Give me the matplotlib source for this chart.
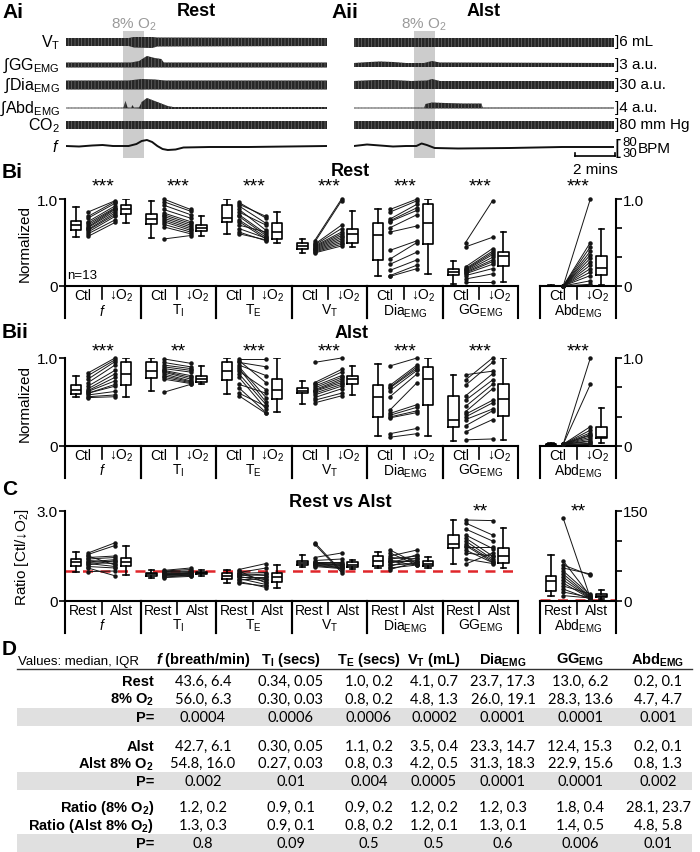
import matplotlib
matplotlib.use("Agg")
import matplotlib.pyplot as plt
import matplotlib.transforms as mtransforms

W, H = 700, 853

plt.rcParams['font.family'] = ['Liberation Sans', 'DejaVu Sans']
plt.rcParams['mathtext.fontset'] = 'custom'
plt.rcParams['mathtext.rm'] = 'Liberation Sans'
plt.rcParams['mathtext.it'] = 'Liberation Sans:italic'
plt.rcParams['mathtext.bf'] = 'Liberation Sans:bold'
try:
    plt.rcParams['mathtext.bfit'] = 'Liberation Sans:italic:bold'
except KeyError:
    pass
plt.rcParams['hatch.linewidth'] = 0.5

# ---------------- A: raw traces, keypoints (time %, top, bottom) ----------------
VT_REST = [(0, 4, -4), (24, 4, -4), (26, 5, -5.5), (33, 5, -6), (35, 4.5, -4.5), (100, 4, -4)]
GG_REST = [(0, 2.5, -2.5), (25, 2.5, -2.5), (28, 4, -2.5), (31, 9, -2.5), (34, 7, -2.5),
           (36.5, 6, -2.5), (37.5, 2.5, -2.5), (100, 2.5, -2.5)]
DIA_REST = [(0, 4.5, -4.5), (24, 4.5, -4.5), (29, 6, -4.5), (34, 5.5, -4.5), (38, 4.5, -4.5), (100, 4.5, -4.5)]
ABD_REST = [(0, 0.4, -0.4), (22, 0.4, -0.4), (22.8, 7, -0.4), (23.6, 0.4, -0.4), (25, 0.4, -0.4),
            (25.5, 3, -0.4), (26, 0.4, -0.4), (28, 0.6, -0.6), (29, 6, -1), (31, 10, -1), (33, 8, -1),
            (35, 6, -1), (37, 4, -1), (39, 2, -1), (41, 1, -1), (100, 1, -1)]
CO2_REST = [(0, 4, -4), (100, 4, -4)]
F_REST = [(0, 0), (5, -0.5), (10, 0.5), (14, 1), (18, 0), (24, 0), (27, 2), (29, 5), (31, 6), (33, 4),
          (35, 0), (37, -3), (39, -4), (42, -3.5), (45, -1.5), (55, -1), (70, -1), (85, -0.5), (100, 0)]

VT_ALST = [(0, 4.5, -4.5), (100, 4.5, -4.5)]
GG_ALST = [(0, 2, -2), (6, 3, -2), (10, 3.5, -2), (15, 3, -2), (20, 2, -2), (27, 2, -2), (30, 4, -2),
           (33, 2.5, -2), (100, 2, -2)]
DIA_ALST = [(0, 4, -4), (8, 5, -4), (15, 5, -4), (22, 4, -4), (28, 4.5, -4), (30, 6, -4), (33, 4, -4), (100, 4, -4)]
ABD_ALST = [(0, 0.4, -0.4), (27, 0.4, -0.4), (27.5, 4, -0.5), (30, 5.5, -0.5), (35, 5, -0.5),
            (42, 4.5, -0.5), (49, 4.5, -0.5), (49.5, 0.5, -0.5), (100, 0.5, -0.5)]
CO2_ALST = [(0, 4, -4), (100, 4, -4)]
F_ALST = [(0, 0), (5, 1.5), (10, 0.5), (15, -0.5), (20, 0), (24, 0), (26, 2.5), (28, 1), (31, -2),
          (40, -2.5), (60, -2), (80, -1), (100, -1)]

HYPOXIA_REST = (22, 30)
HYPOXIA_ALST = (23, 31)

TRACE_LABELS = ['V$_\\mathrm{T}$', '\u222bGG$_\\mathrm{EMG}$', '\u222bDia$_\\mathrm{EMG}$',
                '\u222bAbd$_\\mathrm{EMG}$', 'CO$_2$', '$f$']
SCALE_LABELS = [']6 mL', ']3 a.u.', ']30 a.u.', ']4 a.u.', ']80 mm Hg']

# ---------------- B / C: group data ----------------
GROUP_NAMES = ['$f$', 'T$_\\mathrm{I}$', 'T$_\\mathrm{E}$', 'V$_\\mathrm{T}$',
               'Dia$_\\mathrm{EMG}$', 'GG$_\\mathrm{EMG}$', 'Abd$_\\mathrm{EMG}$']

# box stats: whisker low, q1, median, q3, whisker high
BI_CTL_BOX = [[0.56, 0.64, 0.70, 0.75, 0.91], [0.55, 0.71, 0.77, 0.83, 0.98], [0.60, 0.73, 0.78, 0.93, 1.0],
              [0.38, 0.42, 0.46, 0.50, 0.54], [0.11, 0.30, 0.59, 0.72, 0.88], [0.02, 0.13, 0.16, 0.19, 0.29],
              [0.0, 0.0, 0.0, 0.005, 0.01]]
BI_O2_BOX = [[0.72, 0.83, 0.88, 0.93, 1.0], [0.58, 0.63, 0.67, 0.70, 0.80], [0.50, 0.54, 0.62, 0.72, 0.85],
             [0.45, 0.50, 0.60, 0.65, 0.86], [0.14, 0.48, 0.72, 0.94, 1.0], [0.05, 0.23, 0.35, 0.39, 0.62],
             [0.01, 0.13, 0.21, 0.34, 0.65]]
BI_CTL = [[0.85, 0.80, 0.78, 0.74, 0.72, 0.70, 0.68, 0.67, 0.65, 0.64, 0.62, 0.60, 0.57],
          [1.0, 0.97, 0.93, 0.88, 0.84, 0.82, 0.80, 0.78, 0.76, 0.74, 0.71, 0.68, 0.54],
          [0.96, 0.94, 0.92, 0.88, 0.85, 0.82, 0.80, 0.76, 0.74, 0.70, 0.66, 0.62, 0.60],
          [0.52, 0.50, 0.48, 0.47, 0.46, 0.45, 0.44, 0.43, 0.42, 0.41, 0.40, 0.39, 0.38],
          [0.88, 0.85, 0.77, 0.75, 0.74, 0.67, 0.62, 0.41, 0.31, 0.25, 0.18, 0.12, 0.11],
          [0.50, 0.45, 0.22, 0.20, 0.19, 0.18, 0.17, 0.16, 0.15, 0.14, 0.12, 0.08, 0.05],
          [0.0, 0.0, 0.0, 0.0, 0.0, 0.0, 0.0, 0.0, 0.0, 0.0, 0.0, 0.0, 0.0]]
BI_O2 = [[0.98, 0.97, 0.95, 0.92, 0.90, 0.89, 0.88, 0.86, 0.84, 0.82, 0.80, 0.76, 0.73],
         [0.88, 0.86, 0.82, 0.78, 0.74, 0.72, 0.70, 0.68, 0.66, 0.64, 0.62, 0.60, 0.58],
         [0.78, 0.80, 0.72, 0.64, 0.70, 0.60, 0.58, 0.56, 0.54, 0.62, 0.55, 0.52, 0.53],
         [1.0, 0.98, 0.70, 0.66, 0.62, 0.60, 0.58, 0.56, 0.54, 0.52, 0.50, 0.48, 0.46],
         [1.0, 0.98, 0.94, 0.90, 0.87, 0.82, 0.69, 0.52, 0.50, 0.39, 0.30, 0.24, 0.20],
         [0.98, 0.56, 0.43, 0.40, 0.38, 0.36, 0.33, 0.30, 0.28, 0.25, 0.20, 0.14, 0.05],
         [1.0, 0.50, 0.45, 0.40, 0.36, 0.32, 0.28, 0.24, 0.20, 0.16, 0.12, 0.06, 0.02]]
BI_STARS = ['***', '***', '***', '***', '***', '***', '***']

BII_CTL_BOX = [[0.56, 0.59, 0.64, 0.69, 0.80], [0.63, 0.77, 0.85, 0.96, 1.0], [0.59, 0.75, 0.85, 0.95, 1.0],
               [0.48, 0.60, 0.63, 0.66, 0.74], [0.11, 0.33, 0.56, 0.69, 0.93], [0.06, 0.22, 0.30, 0.57, 0.81],
               [0.01, 0.015, 0.02, 0.025, 0.03]]
BII_O2_BOX = [[0.56, 0.69, 0.82, 0.95, 1.0], [0.70, 0.73, 0.76, 0.80, 0.91], [0.39, 0.53, 0.64, 0.76, 1.0],
              [0.58, 0.71, 0.76, 0.80, 0.91], [0.11, 0.47, 0.76, 0.90, 1.0], [0.07, 0.34, 0.53, 0.71, 1.0],
              [0.03, 0.09, 0.10, 0.22, 0.43]]
BII_CTL = [[0.83, 0.80, 0.76, 0.72, 0.68, 0.65, 0.63, 0.62, 0.60, 0.60, 0.58, 0.56, 0.55],
           [0.99, 0.95, 0.92, 0.90, 0.88, 0.86, 0.85, 0.84, 0.82, 0.80, 0.78, 0.76, 0.61],
           [0.99, 0.97, 0.95, 0.92, 0.90, 0.88, 0.85, 0.82, 0.78, 0.70, 0.66, 0.60, 0.57],
           [0.95, 0.72, 0.70, 0.68, 0.66, 0.64, 0.63, 0.62, 0.60, 0.58, 0.55, 0.52, 0.49],
           [0.91, 0.69, 0.67, 0.66, 0.63, 0.56, 0.41, 0.37, 0.35, 0.33, 0.32, 0.14, 0.10],
           [0.81, 0.75, 0.69, 0.57, 0.52, 0.45, 0.39, 0.36, 0.33, 0.30, 0.23, 0.16, 0.07],
           [0.02, 0.02, 0.02, 0.02, 0.02, 0.02, 0.02, 0.02, 0.02, 0.02, 0.02, 0.02, 0.02]]
BII_O2 = [[1.0, 0.98, 0.96, 0.92, 0.86, 0.82, 0.78, 0.74, 0.70, 0.68, 0.62, 0.58, 0.56],
          [0.94, 0.90, 0.88, 0.86, 0.84, 0.80, 0.78, 0.76, 0.74, 0.73, 0.72, 0.71, 0.70],
          [0.99, 0.72, 0.90, 0.80, 0.55, 0.50, 0.64, 0.47, 0.42, 0.60, 0.38, 0.45, 0.37],
          [1.0, 0.87, 0.84, 0.80, 0.78, 0.76, 0.74, 0.72, 0.70, 0.68, 0.65, 0.60, 0.57],
          [1.0, 0.92, 0.90, 0.88, 0.86, 0.82, 0.72, 0.47, 0.44, 0.40, 0.38, 0.20, 0.14],
          [0.85, 1.0, 0.95, 0.82, 0.75, 0.70, 0.65, 0.52, 0.49, 0.42, 0.40, 0.30, 0.08],
          [1.0, 0.70, 0.22, 0.18, 0.15, 0.13, 0.12, 0.10, 0.08, 0.06, 0.05, 0.03, 0.02]]
BII_STARS = ['***', '**', '***', '***', '***', '***', '***']

C_REST_BOX = [[0.98, 1.16, 1.29, 1.40, 1.64], [0.78, 0.85, 0.90, 0.95, 1.02], [0.60, 0.75, 0.85, 0.95, 1.05],
              [1.15, 1.20, 1.27, 1.35, 1.55], [1.10, 1.18, 1.35, 1.49, 1.64], [1.23, 1.76, 1.90, 2.20, 2.71],
              [9, 17, 34, 41, 77]]
C_ALST_BOX = [[0.87, 1.16, 1.31, 1.42, 1.83], [0.85, 0.90, 0.93, 0.97, 1.05], [0.45, 0.65, 0.80, 0.95, 1.20],
              [1.08, 1.12, 1.20, 1.30, 1.38], [1.09, 1.17, 1.25, 1.33, 1.47], [1.10, 1.27, 1.50, 1.76, 2.44],
              [4, 6, 8, 11, 19]]
C_REST = [[1.60, 1.55, 1.50, 1.45, 1.40, 1.35, 1.30, 1.28, 1.25, 1.20, 1.15, 1.10, 0.98],
          [1.02, 1.00, 0.98, 0.95, 0.92, 0.90, 0.90, 0.88, 0.87, 0.85, 0.83, 0.80, 0.78],
          [1.05, 1.00, 0.95, 0.92, 0.90, 0.88, 0.85, 0.82, 0.80, 0.75, 0.70, 0.65, 0.60],
          [1.95, 1.90, 1.45, 1.35, 1.30, 1.28, 1.26, 1.25, 1.24, 1.22, 1.20, 1.18, 1.15],
          [1.70, 1.60, 1.50, 1.45, 1.40, 1.35, 1.32, 1.30, 1.25, 1.20, 1.15, 1.10, 1.05],
          [2.70, 2.60, 2.40, 2.20, 2.10, 2.00, 1.90, 1.85, 1.80, 1.70, 1.60, 1.40, 1.23],
          [138, 67, 60, 55, 50, 45, 40, 35, 30, 25, 20, 15, 9]]
C_ALST = [[1.94, 1.85, 1.20, 1.50, 1.45, 1.30, 1.38, 1.25, 1.15, 1.35, 1.10, 0.84, 1.00],
          [1.10, 1.05, 1.00, 0.98, 0.95, 0.93, 0.92, 0.90, 0.90, 0.88, 0.86, 0.85, 0.82],
          [1.25, 0.60, 1.10, 0.95, 0.70, 0.85, 0.90, 0.65, 0.80, 0.55, 0.75, 0.45, 0.50],
          [1.00, 0.95, 1.60, 1.40, 1.30, 1.25, 1.22, 1.20, 1.18, 1.15, 1.12, 1.10, 1.08],
          [1.25, 1.20, 1.70, 1.40, 1.50, 1.30, 1.20, 1.35, 1.55, 1.25, 1.45, 1.20, 1.30],
          [2.68, 2.20, 2.00, 1.75, 1.50, 1.40, 1.35, 1.30, 1.80, 1.28, 1.50, 1.25, 1.60],
          [5, 8, 43, 45, 10, 7, 6, 5, 4, 12, 3, 6, 5]]
C_STARS = ['', '', '', '', '', '**', '**']

# ---------------- D: table ----------------
TABLE_HEADERS = ['$\\mathbfit{f}$ (breath/min)', 'T$_\\mathbf{I}$ (secs)', 'T$_\\mathbf{E}$ (secs)',
                 'V$_\\mathbf{T}$ (mL)', 'Dia$_\\mathbf{EMG}$', 'GG$_\\mathbf{EMG}$', 'Abd$_\\mathbf{EMG}$']
TABLE_ROWS = ['Rest', '8% O$_\\mathbf{2}$', 'P=', 'Alst', 'Alst 8% O$_\\mathbf{2}$', 'P=',
              'Ratio (8% O$_\\mathbf{2}$)', 'Ratio (Alst 8% O$_\\mathbf{2}$)', 'P=']
TABLE_VALUES = [
    ['43.6, 6.4', '0.34, 0.05', '1.0, 0.2', '4.1, 0.7', '23.7, 17.3', '13.0, 6.2', '0.2, 0.1'],
    ['56.0, 6.3', '0.30, 0.03', '0.8, 0.2', '4.8, 1.3', '26.0, 19.1', '28.3, 13.6', '4.7, 4.7'],
    ['0.0004', '0.0006', '0.0006', '0.0002', '0.0001', '0.0001', '0.001'],
    ['42.7, 6.1', '0.30, 0.05', '1.1, 0.2', '3.5, 0.4', '23.3, 14.7', '12.4, 15.3', '0.2, 0.1'],
    ['54.8, 16.0', '0.27, 0.03', '0.8, 0.3', '4.2, 0.5', '31.3, 18.3', '22.9, 15.6', '0.8, 1.3'],
    ['0.002', '0.01', '0.004', '0.0005', '0.0001', '0.0001', '0.002'],
    ['1.2, 0.2', '0.9, 0.1', '0.9, 0.2', '1.2, 0.2', '1.2, 0.3', '1.8, 0.4', '28.1, 23.7'],
    ['1.3, 0.3', '0.9, 0.1', '0.8, 0.2', '1.2, 0.1', '1.3, 0.1', '1.4, 0.5', '4.8, 5.8'],
    ['0.8', '0.09', '0.5', '0.5', '0.6', '0.006', '0.01'],
]

fig = plt.figure(figsize=(W / 100, H / 100), dpi=100)


def fy(y):
    return 1 - y / H


def px_axes(x0, y0, x1, y1):
    return fig.add_axes([x0 / W, 1 - y1 / H, (x1 - x0) / W, (y1 - y0) / H])


def ftext(x, y, s, **kw):
    kw.setdefault('va', 'center')
    fig.text(x / W, fy(y), s, **kw)


# ---------------- panel A ----------------
ROW_Y = [43, 66, 86, 109, 126, 147]


def draw_traces(x0, x1, fills, freq, band):
    ax = px_axes(x0, 30, x1, 162)
    ax.set_xlim(0, 100)
    ax.set_ylim(162, 30)
    ax.axis('off')
    ax.fill_between(band, [32, 32], [159, 159], color='#cccccc', lw=0, zorder=0)
    for row, pts in zip(ROW_Y, fills):
        t = [p[0] for p in pts]
        top = [row - p[1] for p in pts]
        bot = [row - p[2] for p in pts]
        ax.fill_between(t, top, bot, facecolor='#262626', edgecolor='#6e6e6e', hatch='|||||', lw=0, zorder=2)
    ax.plot([p[0] for p in freq], [ROW_Y[5] - p[1] for p in freq], color='#111111', lw=1.4, zorder=3)
    return ax


draw_traces(66, 327, [VT_REST, GG_REST, DIA_REST, ABD_REST, CO2_REST], F_REST, HYPOXIA_REST)
draw_traces(354, 614, [VT_ALST, GG_ALST, DIA_ALST, ABD_ALST, CO2_ALST], F_ALST, HYPOXIA_ALST)

for x, label in [(66 + 2.61 * sum(HYPOXIA_REST) / 2, '8% O$_2$'), (354 + 2.6 * sum(HYPOXIA_ALST) / 2, '8% O$_2$')]:
    ftext(x, 25, label, ha='center', fontsize=11, color='#9a9a9a')

for y, lab in zip(ROW_Y, TRACE_LABELS):
    ftext(60, y, lab, ha='right', fontsize=11.5)
for y, lab in zip(ROW_Y, SCALE_LABELS):
    ftext(615, y - 1, lab, ha='left', fontsize=11)
ftext(615, 148, '[', ha='left', fontsize=15)
ftext(622, 143, '80', ha='left', fontsize=9.5)
ftext(622, 154, '30', ha='left', fontsize=9.5)
ftext(638, 149, 'BPM', ha='left', fontsize=11)
# scale bar 2 mins
fig.add_artist(plt.Line2D([575 / W, 615 / W], [fy(157), fy(157)], color='black', lw=1.2))
fig.add_artist(plt.Line2D([575 / W, 575 / W], [fy(157), fy(154)], color='black', lw=1.2))
fig.add_artist(plt.Line2D([615 / W, 615 / W], [fy(157), fy(154)], color='black', lw=1.2))
ftext(595, 170, '2 mins', ha='center', fontsize=11)

ftext(2, 12, 'Ai', fontsize=15, fontweight='bold')
ftext(196, 12, 'Rest', ha='center', fontsize=13, fontweight='bold')
ftext(331, 12, 'Aii', fontsize=15, fontweight='bold')
ftext(484, 12, 'Alst', ha='center', fontsize=13, fontweight='bold')

# ---------------- panels B and C ----------------
CTL_X, LINE_X0, LINE_X1, O2_X = 0.58, 1.22, 2.65, 3.23


def box(ax, x, s):
    ax.bxp([dict(whislo=s[0], q1=s[1], med=s[2], q3=s[3], whishi=s[4], fliers=[])],
           positions=[x], widths=0.55, showfliers=False, manage_ticks=False,
           boxprops=dict(color='black', lw=1.2), whiskerprops=dict(color='black', lw=1.2),
           capprops=dict(color='black', lw=1.2), medianprops=dict(color='black', lw=1.2))


def paired_panel(ytop, ybot, ymax, ctl, o2, ctl_box, o2_box, stars, star_y, cond, ylabel,
                 left_ticks, right_ticks, right_minor, red_line=False):
    ax = px_axes(65, ytop, 518, ybot)
    axa = px_axes(540, ytop, 616, ybot)
    ax.set_xlim(0, 24)
    axa.set_xlim(0, 4)
    for a in (ax, axa):
        a.set_ylim(0, ymax)
        a.set_xticks([])
        a.spines['top'].set_visible(False)
        for s in a.spines.values():
            s.set_linewidth(1.5)
        a.tick_params(axis='y', length=4, width=1.2, labelsize=11, pad=1)
    ax.spines['right'].set_visible(False)
    axa.spines['left'].set_visible(False)
    axa.yaxis.tick_right()
    ax.set_yticks(left_ticks[0], left_ticks[1])
    axa.set_yticks(right_minor + right_ticks[0],
                   [''] * len(right_minor) + right_ticks[1])
    ax.set_ylabel(ylabel, fontsize=11, labelpad=4)

    for g in range(7):
        a, x0 = (ax, 4 * g) if g < 6 else (axa, 0)
        box(a, x0 + CTL_X, ctl_box[g])
        box(a, x0 + O2_X, o2_box[g])
        for c, o in zip(ctl[g], o2[g]):
            a.plot([x0 + LINE_X0, x0 + LINE_X1], [c, o], color='#151515', lw=0.7,
                   marker='o', ms=2.2, clip_on=False, zorder=3)
        tr = mtransforms.blended_transform_factory(a.transData, fig.transFigure)
        a.text(x0 + 0.95, fy(ybot + 9), cond[0], transform=tr, ha='center', va='center', fontsize=10)
        a.text(x0 + 3.0, fy(ybot + 9), cond[1], transform=tr, ha='center', va='center', fontsize=10)
        a.text(x0 + 2.0, fy(ybot + 24), GROUP_NAMES[g], transform=tr, ha='center', va='center', fontsize=10)
        a.plot([x0 + 1.96] * 2, [fy(ybot + 1), fy(ybot + 13)], transform=tr, color='black', lw=1.2, clip_on=False)
        for xs in (x0, x0 + 4):
            a.plot([xs, xs], [fy(ybot), fy(ybot + 32)], transform=tr, color='black', lw=1.5, clip_on=False)
        if stars[g]:
            a.text(x0 + 2.0, fy(star_y), stars[g], transform=tr, ha='center', va='center', fontsize=14)
    if red_line:
        ax.axhline(1.0, color='#e0262b', ls=(0, (4, 3)), lw=1.8, zorder=1)
        axa.axhline(1.0, color='#e0262b', ls=(0, (4, 3)), lw=1.8, zorder=1, clip_on=False)
    return ax, axa


ax_bi, _ = paired_panel(200, 287, 1.0, BI_CTL, BI_O2, BI_CTL_BOX, BI_O2_BOX, BI_STARS, 187,
                        ('Ctl', '\u2193O$_2$'), 'Normalized', ([0, 1.0], ['0', '1.0']),
                        ([0, 1.0], ['0', '1.0']), [1 / 3, 2 / 3])
ax_bi.text(0.1, 0.09, 'n=13', fontsize=9.5, transform=ax_bi.transData)
ftext(2, 172, 'Bi', fontsize=15, fontweight='bold')
ftext(350, 172, 'Rest', ha='center', fontsize=13, fontweight='bold')

paired_panel(359, 447, 1.0, BII_CTL, BII_O2, BII_CTL_BOX, BII_O2_BOX, BII_STARS, 352,
             ('Ctl', '\u2193O$_2$'), 'Normalized', ([0, 1.0], ['0', '1.0']),
             ([0, 1.0], ['0', '1.0']), [1 / 3, 2 / 3])
ftext(2, 333, 'Bii', fontsize=15, fontweight='bold')
ftext(352, 334, 'Alst', ha='center', fontsize=13, fontweight='bold')

paired_panel(512, 602, 3.0, C_REST, C_ALST, C_REST_BOX, C_ALST_BOX, C_STARS, 512,
             ('Rest', 'Alst'), 'Ratio [Ctl/\u2193O$_2$]', ([0, 3.0], ['0', '3.0']),
             ([0, 150], ['0', '150']), [50, 100], red_line=True)
ftext(2, 490, 'C', fontsize=15, fontweight='bold')
ftext(340, 503, 'Rest vs Alst', ha='center', fontsize=13, fontweight='bold')

# ---------------- panel D: table ----------------
ftext(2, 650, 'D', fontsize=15, fontweight='bold')
ftext(18, 662, 'Values: median, IQR', ha='left', fontsize=9.5)
COL_X = [203, 291, 369, 434, 503, 580, 658]
ROW_YS = [682, 700, 718, 747, 764, 782, 808, 826, 844]
for x, h in zip(COL_X, TABLE_HEADERS):
    ftext(x, 660, h, ha='center', fontsize=10.5, fontweight='bold')
fig.add_artist(plt.Line2D([17 / W, 692 / W], [fy(670), fy(670)], color='#333333', lw=1))
for y, lab, vals in zip(ROW_YS, TABLE_ROWS, TABLE_VALUES):
    if lab == 'P=':
        fig.add_artist(plt.Rectangle((17 / W, fy(y + 9)), 675 / W, 18 / H, color='#e0e0e0', lw=0, zorder=0))
    ftext(154, y, lab, ha='right', fontsize=10.5, fontweight='bold')
    for x, v in zip(COL_X, vals):
        ftext(x, y, v, ha='center', fontsize=10.5, family=['Lato', 'DejaVu Sans'])

fig.savefig('out.png', dpi=100)
